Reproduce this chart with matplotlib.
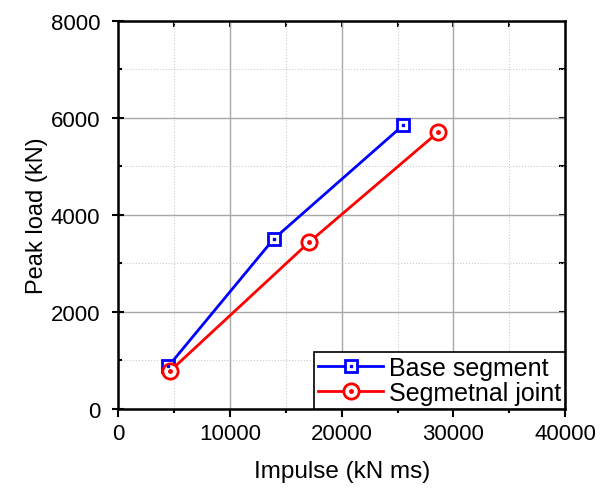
import matplotlib
matplotlib.use("Agg")
import matplotlib.pyplot as plt
from matplotlib.ticker import MultipleLocator

plt.rcParams['font.family'] = ['Liberation Sans', 'DejaVu Sans']

base_x = [4500, 13900, 25500]
base_y = [880, 3500, 5850]
joint_x = [4650, 17100, 28650]
joint_y = [780, 3440, 5710]

fig = plt.figure(figsize=(6, 4.89), dpi=100)
ax = fig.add_axes([0.197, 0.162, 0.745, 0.793])

l1, = ax.plot(base_x, base_y, '-', color='blue', lw=2, marker='s', ms=8,
              mfc='white', mec='blue', mew=2)
d1, = ax.plot(base_x, base_y, 's', color='blue', ms=2, zorder=4)
l2, = ax.plot(joint_x, joint_y, '-', color='red', lw=2, marker='o', ms=11,
              mfc='white', mec='red', mew=2)
d2, = ax.plot(joint_x, joint_y, 'o', color='red', ms=2.5, zorder=4)

ax.set_xlim(0, 40000)
ax.set_ylim(0, 8000)
ax.xaxis.set_major_locator(MultipleLocator(10000))
ax.xaxis.set_minor_locator(MultipleLocator(5000))
ax.yaxis.set_major_locator(MultipleLocator(2000))
ax.yaxis.set_minor_locator(MultipleLocator(1000))
ax.grid(which='major', color='#a8a8a8', lw=1)
ax.grid(which='minor', color='#cccccc', lw=0.8, ls=':')
ax.set_axisbelow(True)

for s in ax.spines.values():
    s.set_linewidth(1.8)
ax.tick_params(which='both', width=1.5, labelsize=16)
ax.tick_params(axis='x', which='major', direction='out', length=6, pad=4)
ax.tick_params(axis='x', which='minor', direction='out', length=3)
ax.tick_params(axis='y', which='major', direction='inout', length=8, pad=9)
ax.tick_params(axis='y', which='minor', direction='in', length=3)
ax.set_xlabel('Impulse (kN ms)', fontsize=17.5, labelpad=12)
ax.set_ylabel('Peak load (kN)', fontsize=17, labelpad=2)

# mirrored inward ticks on top and right
top = ax.secondary_xaxis('top')
top.set_xticks([5000, 10000, 15000, 20000, 25000, 30000, 35000])
top.tick_params(direction='in', length=4, width=1.5, labeltop=False)
top.spines['top'].set_visible(False)
right = ax.secondary_yaxis('right')
right.set_yticks([1000, 2000, 3000, 4000, 5000, 6000, 7000])
right.tick_params(direction='in', length=4, width=1.5, labelright=False)
right.spines['right'].set_visible(False)

leg = ax.legend([(l1, d1), (l2, d2)], ['Base segment', 'Segmetnal joint'],
                loc='lower right', fontsize=18,
                frameon=True, fancybox=False, edgecolor='black', framealpha=1,
                borderaxespad=0, handlelength=2.6, handletextpad=0.25,
                borderpad=0.15, labelspacing=0.05)
leg.get_frame().set_linewidth(1.2)

fig.savefig('out.png', dpi=100)
